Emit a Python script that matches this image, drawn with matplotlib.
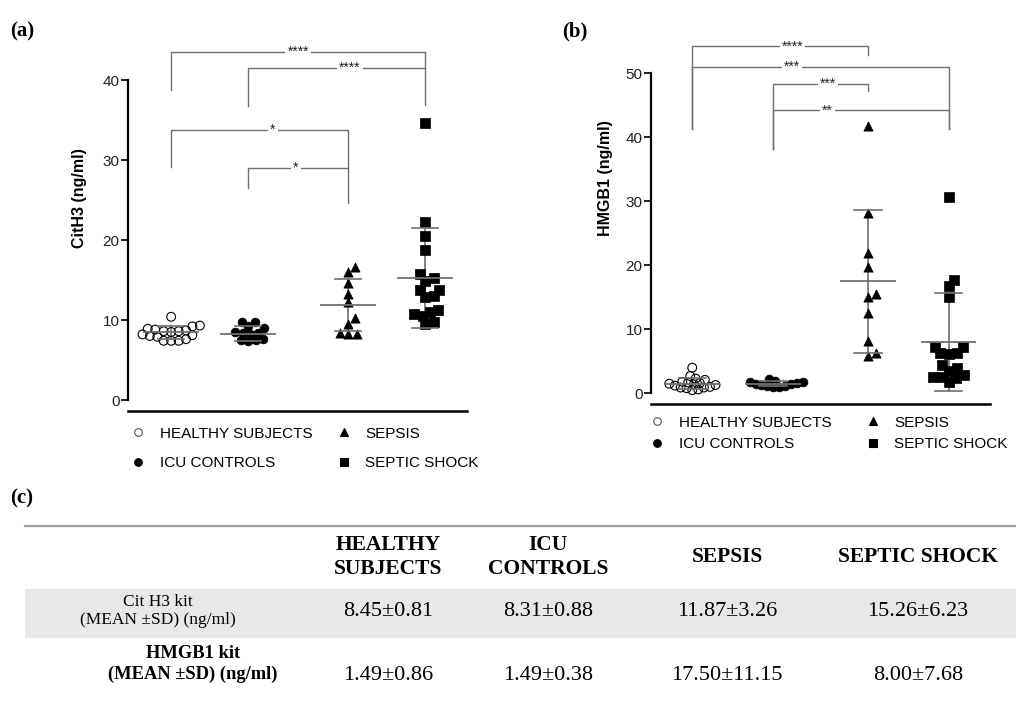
import numpy as np
import matplotlib.pyplot as plt
from matplotlib.lines import Line2D
from matplotlib.patches import Rectangle

plt.rcParams['font.family'] = ['Liberation Sans', 'DejaVu Sans']

groups = ['HEALTHY SUBJECTS', 'ICU CONTROLS', 'SEPSIS', 'SEPTIC SHOCK']
table_heads = ['HEALTHY\nSUBJECTS', 'ICU\nCONTROLS', 'SEPSIS', 'SEPTIC SHOCK']

# panel (a) CitH3 values (ng/ml)
cith3_healthy = [10.4, 9.3, 9.2, 8.9, 8.8, 8.7, 8.6, 8.6, 8.5, 8.2, 8.1, 8.0, 7.9, 7.6, 7.4, 7.4, 7.4]
cith3_icu = [9.7, 9.7, 9.2, 9.0, 8.5, 8.4, 8.4, 8.3, 7.6, 7.5, 7.5, 7.4]
cith3_sepsis = [16.6, 16.0, 14.6, 13.3, 12.2, 10.2, 9.5, 8.4, 8.2, 8.2]
cith3_shock = [34.6, 22.2, 20.5, 18.8, 15.7, 15.2, 14.9, 13.8, 13.7, 13.0, 12.9,
               11.2, 11.0, 10.7, 10.5, 9.8, 9.5]

# panel (b) HMGB1 values (ng/ml)
hmgb1_healthy = [4.0, 2.7, 2.3, 2.1, 1.8, 1.7, 1.6, 1.5, 1.4, 1.3, 1.2, 1.0, 0.9, 0.9, 0.8, 0.6, 0.5]
hmgb1_icu = [2.3, 1.9, 1.8, 1.7, 1.6, 1.5, 1.4, 1.3, 1.2, 1.1, 1.0, 1.0]
hmgb1_sepsis = [41.8, 28.2, 22.0, 19.8, 15.5, 15.1, 12.5, 8.2, 6.3, 5.8]
hmgb1_shock = [30.6, 17.7, 16.7, 15.0, 7.3, 7.2, 6.3, 6.25, 6.1, 4.4, 3.9, 3.5,
               2.9, 2.6, 2.6, 2.4, 1.8]

# table (c) summary values
cith3_mean = [8.45, 8.31, 11.87, 15.26]
cith3_sd = [0.81, 0.88, 3.26, 6.23]
hmgb1_mean = [1.49, 1.49, 17.50, 8.00]
hmgb1_sd = [0.86, 0.38, 11.15, 7.68]

# significance: (group i, group j, label)
sig_a = [(0, 3, '****'), (1, 3, '****'), (0, 2, '*'), (1, 2, '*')]
sig_b = [(0, 2, '****'), (0, 3, '***'), (1, 2, '***'), (1, 3, '**')]

markers = ['o', 'o', '^', 's']
faces = ['none', 'black', 'black', 'black']
sizes = [40, 40, 44, 44]
LINE = '#707070'


def swarm(vals, px_x, px_y, d):
    """greedy beeswarm, returns x offsets in data units"""
    placed, offs = [], []
    for v in vals:
        y = v * px_y
        cands = [0.0]
        for (px, py) in placed:
            dy = y - py
            if abs(dy) < d:
                dx = np.sqrt(d * d - dy * dy)
                cands += [px + dx, px - dx]
        cands.sort(key=abs)
        for c in cands:
            if all((c - px) ** 2 + (y - py) ** 2 >= d * d - 1e-6 for px, py in placed):
                break
        placed.append((c, y))
        offs.append(c / px_x)
    return offs


def draw_panel(ax, data, pos, means, sds, px_x, px_y, half_mean, half_cap, d):
    for k, vals in enumerate(data):
        vals = sorted(vals)
        offs = swarm(vals, px_x, px_y, d if k < 2 else 8.5)
        ax.scatter(pos[k] + np.array(offs), vals, marker=markers[k], s=sizes[k],
                   facecolors=faces[k], edgecolors='black',
                   linewidths=0.8 if k == 0 else 0.5, zorder=3, clip_on=False)
        m, s = means[k], sds[k]
        ax.plot([pos[k] - half_mean, pos[k] + half_mean], [m, m], color=LINE, lw=1.3, zorder=4)
        ax.plot([pos[k], pos[k]], [m - s, m + s], color=LINE, lw=1.2, zorder=2)
        for yy in (m - s, m + s):
            ax.plot([pos[k] - half_cap, pos[k] + half_cap], [yy, yy], color=LINE, lw=1.2, zorder=4)


def draw_brackets(ax, pos, sig, heights, legs, text_x):
    for (i, j, lab), h, (l1, l2), tx in zip(sig, heights, legs, text_x):
        ax.plot([pos[i], pos[i], pos[j], pos[j]], [l1, h, h, l2], color=LINE, lw=1.0,
                clip_on=False, zorder=1)
        ax.text(tx, h, lab, ha='center', va='center', fontsize=10, color='#222222',
                bbox=dict(facecolor='white', edgecolor='none', pad=1.5), zorder=2)


def setup_axis(ax, ymax_tick, ytop, xlim, ylabel, label_xy):
    ax.set_xlim(*xlim)
    ax.set_ylim(0, ytop)
    ax.spines[['top', 'right']].set_visible(False)
    ax.spines['left'].set_bounds(0, ymax_tick)
    ax.spines['left'].set_linewidth(1.6)
    ax.spines['bottom'].set_position(('outward', 8))
    ax.spines['bottom'].set_linewidth(1.8)
    ax.set_xticks([])
    ax.set_yticks(np.arange(0, ymax_tick + 1, 10))
    ax.tick_params(axis='y', length=5, width=1.4, labelsize=11, pad=1, colors='#222222')
    ax.set_ylabel(ylabel, fontsize=11.5, fontweight='bold')
    ax.yaxis.set_label_coords(*label_xy)


def add_legend(ax, anchor, spacing, colsp):
    handles = [Line2D([], [], marker=markers[k], ls='none', markersize=5.5,
                      markerfacecolor='white' if k == 0 else 'black',
                      markeredgecolor='#555555' if k == 0 else 'black', markeredgewidth=0.8)
               for k in range(4)]
    ax.legend(handles, groups, ncol=2, loc='upper left', bbox_to_anchor=anchor,
              bbox_transform=ax.figure.transFigure, frameon=False, fontsize=11,
              handlelength=1.0, handletextpad=0.9, labelspacing=spacing,
              columnspacing=colsp, borderpad=0)


fig = plt.figure(figsize=(10.16, 7.09), dpi=100)
W, H = 1016, 709

# ---- panel (a)
pos_a = [0, 1, 2.3, 3.3]
ax_a = fig.add_axes([128 / W, 1 - 400 / H, 339 / W, 360 / H])
setup_axis(ax_a, 40, 45, (-0.56, 3.84), 'CitH3 (ng/ml)', (-0.12, 0.56))
draw_panel(ax_a, [cith3_healthy, cith3_icu, cith3_sepsis, cith3_shock], pos_a,
           cith3_mean, cith3_sd, 77, 8, 0.35, 0.17, 7.5)
draw_brackets(ax_a, pos_a, sig_a, [43.5, 41.5, 33.8, 29.0],
              [(38.75, 36.9), (36.75, 41.5), (29.1, 24.6), (26.5, 29.0)],
              [1.65, 2.32, 1.32, 1.62])
add_legend(ax_a, (123 / W, 1 - 419 / H), 1.0, 1.55)

# ---- panel (b)
pos_b = [0, 1, 2.17, 3.17]
ax_b = fig.add_axes([651 / W, 1 - 393.3 / H, 339 / W, 358.4 / H])
setup_axis(ax_b, 50, 56, (-0.51, 3.68), 'HMGB1 (ng/ml)', (-0.112, 0.6))
draw_panel(ax_b, [hmgb1_healthy, hmgb1_icu, hmgb1_sepsis, hmgb1_shock], pos_b,
           hmgb1_mean, hmgb1_sd, 81, 6.4, 0.33, 0.17, 6.0)
draw_brackets(ax_b, pos_b, sig_b, [54.2, 51.0, 48.3, 44.2],
              [(41.25, 52.9), (41.25, 41.25), (38.1, 47.3), (38.1, 41.25)],
              [1.24, 1.23, 1.68, 1.67])
add_legend(ax_b, (642 / W, 1 - 408 / H), 0.5, 2.2)

# panel letters
for x, y, t in [(10, 31, '(a)'), (562, 31, '(b)'), (10, 498, '(c)')]:
    fig.text(x / W, 1 - y / H, t, fontsize=15, fontweight='bold',
             family=['Liberation Serif', 'DejaVu Serif'], va='center', ha='left')

# ---- table (c)
ax_t = fig.add_axes([0, 0, 1, 200 / H])
ax_t.set_xlim(0, W)
ax_t.set_ylim(H, H - 200)
ax_t.axis('off')
serif = ['Liberation Serif', 'DejaVu Serif']
col_x = [388, 548, 727, 918]

ax_t.plot([25, W], [526, 526], color='#a0a0a0', lw=1.6)
ax_t.add_patch(Rectangle((25, 589), W - 25, 49, facecolor='#e8e8e8', edgecolor='none'))

for x, head in zip(col_x, table_heads):
    ax_t.text(x, 557, head, ha='center', va='center', fontsize=15.5, fontweight='bold',
              family=serif, linespacing=1.2)

ax_t.text(158, 611, 'Cit H3 kit\n(MEAN \u00b1SD) (ng/ml)', ha='center', va='center',
          fontsize=12.5, family=serif, linespacing=1.15)
ax_t.text(193, 664, 'HMGB1 kit\n(MEAN \u00b1SD) (ng/ml)', ha='center', va='center',
          fontsize=13.3, fontweight='bold', family=serif, linespacing=1.3)

for x, m, s in zip(col_x, cith3_mean, cith3_sd):
    ax_t.text(x, 612, f'{m:.2f}\u00b1{s:.2f}', ha='center', va='center', fontsize=16, family=serif)
for x, m, s in zip(col_x, hmgb1_mean, hmgb1_sd):
    ax_t.text(x, 676, f'{m:.2f}\u00b1{s:.2f}', ha='center', va='center', fontsize=16, family=serif)

fig.savefig('out.png', dpi=100)
